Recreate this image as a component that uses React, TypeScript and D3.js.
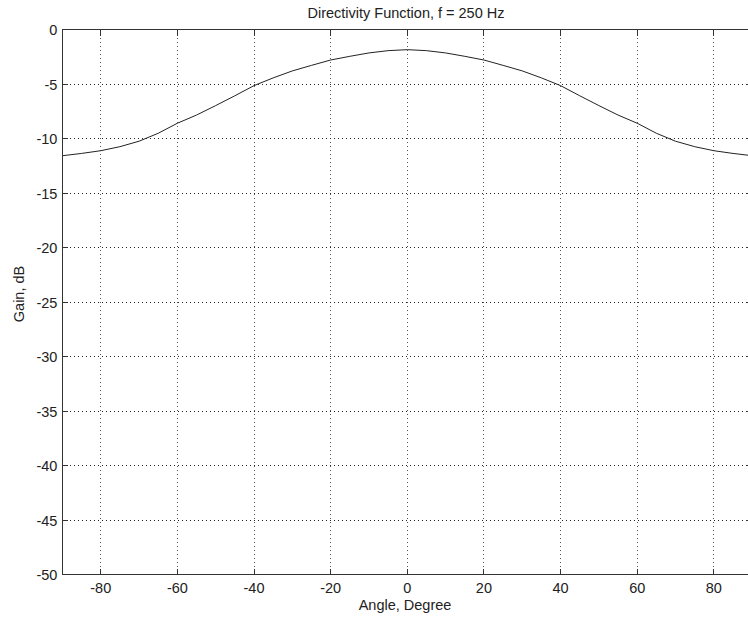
import React from "react";
import * as d3 from "d3";

// angle (degrees) and gain (dB)
const angles = [-90, -85, -80, -75, -70, -65, -60, -55, -50, -45, -40, -35, -30, -25, -20, -15, -10, -5, 0,
  5, 10, 15, 20, 25, 30, 35, 40, 45, 50, 55, 60, 65, 70, 75, 80, 85, 90];
const gains = [-11.58, -11.37, -11.12, -10.75, -10.25, -9.52, -8.6, -7.85, -6.98, -6.08, -5.15, -4.44, -3.8, -3.29, -2.8, -2.46, -2.15, -1.94, -1.85,
  -1.94, -2.15, -2.46, -2.8, -3.29, -3.8, -4.44, -5.15, -6.08, -6.98, -7.85, -8.6, -9.52, -10.25, -10.75, -11.12, -11.37, -11.58];
const xTicks = [-80, -60, -40, -20, 0, 20, 40, 60, 80];
const yTicks = [0, -5, -10, -15, -20, -25, -30, -35, -40, -45, -50];

const W = 748;
const H = 620;
const left = 62.4, right = 752.2, top = 29.5, bottom = 574.5;
const font = "'Liberation Sans', Arial, sans-serif";
const fs = 14.5;

export default function App() {
  const x = d3.scaleLinear().domain([-90, 90]).range([left, right]);
  const y = d3.scaleLinear().domain([-50, 0]).range([bottom, top]);
  const line = d3.line<number>()
    .x((_, i) => x(angles[i]))
    .y((d) => y(d));

  return (
    <svg width={W} height={H} style={{ position: "absolute", left: 0, top: 0, background: "#fff" }}>
      <rect x={0} y={0} width={W} height={H} fill="#fff" />
      {/* grid */}
      {xTicks.map((t) => (
        <line key={"gx" + t} x1={x(t)} x2={x(t)} y1={top} y2={bottom} stroke="#555" strokeDasharray="1,3" shapeRendering="crispEdges" />
      ))}
      {yTicks.filter((t) => t !== 0 && t !== -50).map((t) => (
        <line key={"gy" + t} x1={left} x2={right} y1={y(t)} y2={y(t)} stroke="#222" strokeDasharray="1,3" shapeRendering="crispEdges" />
      ))}
      {/* curve */}
      <path d={line(gains) || ""} fill="none" stroke="#222" strokeWidth={1} />
      {/* box */}
      <rect x={left} y={top} width={right - left} height={bottom - top} fill="none" stroke="#333" strokeWidth={1} shapeRendering="crispEdges" />
      {/* ticks */}
      {xTicks.map((t) => (
        <g key={"tx" + t} stroke="#333" shapeRendering="crispEdges">
          <line x1={x(t)} x2={x(t)} y1={bottom} y2={bottom - 6} />
          <line x1={x(t)} x2={x(t)} y1={top} y2={top + 6} />
        </g>
      ))}
      {yTicks.map((t) => (
        <g key={"ty" + t} stroke="#333" shapeRendering="crispEdges">
          <line x1={left} x2={left + 6} y1={y(t)} y2={y(t)} />
          <line x1={right} x2={right - 6} y1={y(t)} y2={y(t)} />
        </g>
      ))}
      {/* tick labels */}
      {xTicks.map((t) => (
        <text key={"lx" + t} x={x(t)} y={bottom + 18} textAnchor="middle" fontFamily={font} fontSize={fs} fill="#222">
          {t}
        </text>
      ))}
      {yTicks.map((t) => (
        <text key={"ly" + t} x={left - 5} y={y(t) + 5.5} textAnchor="end" fontFamily={font} fontSize={fs} fill="#222">
          {t}
        </text>
      ))}
      {/* titles */}
      <text x={406} y={18} textAnchor="middle" fontFamily={font} fontSize={fs} fill="#222">
        Directivity Function, f = 250 Hz
      </text>
      <text x={405} y={610} textAnchor="middle" fontFamily={font} fontSize={fs} fill="#222">
        Angle, Degree
      </text>
      <text transform={`translate(24,294) rotate(-90)`} textAnchor="middle" fontFamily={font} fontSize={fs} fill="#222">
        Gain, dB
      </text>
    </svg>
  );
}
